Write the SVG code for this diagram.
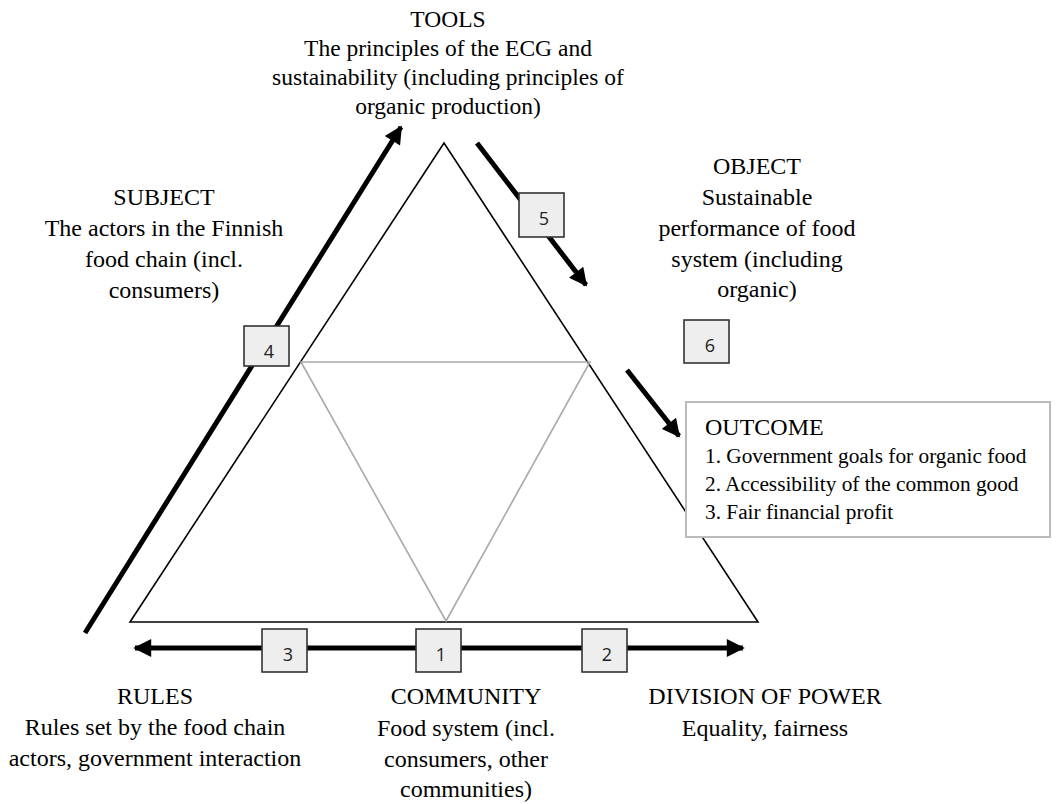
<svg xmlns="http://www.w3.org/2000/svg" width="1056" height="804" viewBox="0 0 1056 804">
<style>
.t{font-family:"Liberation Serif","Times New Roman",serif;font-size:24px;fill:#000;text-anchor:middle}
.o{font-family:"Liberation Serif","Times New Roman",serif;fill:#000}
.bx{fill:#eeeeee;stroke:#333;stroke-width:1.6}
.n{font-family:"Open Sans","Liberation Sans",sans-serif;font-size:18px;fill:#222;text-anchor:middle}
.ar{stroke:#000;stroke-width:5;fill:none}
</style>
<defs>
<marker id="ah" viewBox="0 0 10 10" refX="9" refY="5" markerWidth="4" markerHeight="3.6" orient="auto" markerUnits="strokeWidth">
<path d="M0,0 L10,5 L0,10 z" fill="#000"/>
</marker>
</defs>
<rect width="1056" height="804" fill="#fff"/>
<g id="triangle">
<polygon points="444,143 758,622 130,622" fill="none" stroke="#000" stroke-width="1.6"/>
<polygon points="301,362 590,362 446,621" fill="none" stroke="#aaa" stroke-width="1.6"/>
</g>
<g id="connectors">
<line class="ar" x1="440" y1="648" x2="135" y2="648" marker-end="url(#ah)"/>
<line class="ar" x1="440" y1="648" x2="743" y2="648" marker-end="url(#ah)"/>
<line class="ar" x1="85" y1="633" x2="401" y2="127" marker-end="url(#ah)"/>
<line class="ar" x1="477" y1="143" x2="586" y2="285" marker-end="url(#ah)"/>
<line class="ar" x1="627" y1="370" x2="679" y2="436" marker-end="url(#ah)"/>
</g>
<g id="n1"><rect class="bx" x="416" y="629" width="45" height="43"/><text class="n" x="441" y="661">1</text></g>
<g id="n2"><rect class="bx" x="582" y="629" width="45" height="43"/><text class="n" x="607" y="661">2</text></g>
<g id="n3"><rect class="bx" x="262" y="629" width="45" height="43"/><text class="n" x="288" y="661">3</text></g>
<g id="n4"><rect class="bx" x="244" y="326" width="45" height="40"/><text class="n" x="269" y="358">4</text></g>
<g id="n5"><rect class="bx" x="519" y="193" width="45" height="44"/><text class="n" x="544" y="225">5</text></g>
<g id="n6"><rect class="bx" x="684" y="320" width="45" height="43"/><text class="n" x="710" y="352">6</text></g>
<g id="tools" font-size="23.5">
<text class="t" x="448" y="27" style="font-size:23.5px">TOOLS</text>
<text class="t" x="448" y="56" style="font-size:23.5px">The principles of the ECG and</text>
<text class="t" x="448" y="85" style="font-size:23.5px">sustainability (including principles of</text>
<text class="t" x="448" y="114" style="font-size:23.5px">organic production)</text>
</g>
<g id="subject">
<text class="t" x="164" y="205">SUBJECT</text>
<text class="t" x="164" y="236">The actors in the Finnish</text>
<text class="t" x="164" y="267">food chain (incl.</text>
<text class="t" x="164" y="298">consumers)</text>
</g>
<g id="object">
<text class="t" x="757" y="174">OBJECT</text>
<text class="t" x="757" y="205">Sustainable</text>
<text class="t" x="757" y="236">performance of food</text>
<text class="t" x="757" y="267">system (including</text>
<text class="t" x="757" y="297">organic)</text>
</g>
<g id="outcome">
<rect x="686" y="402" width="364" height="135" fill="#fff" stroke="#bbb" stroke-width="2"/>
<text class="o" x="705" y="435" font-size="24">OUTCOME</text>
<text class="o" x="705" y="463" font-size="21.3">1. Government goals for organic food</text>
<text class="o" x="705" y="491" font-size="21.3">2. Accessibility of the common good</text>
<text class="o" x="705" y="519" font-size="21.3">3. Fair financial profit</text>
</g>
<g id="rules">
<text class="t" x="155" y="704">RULES</text>
<text class="t" x="155" y="735">Rules set by the food chain</text>
<text class="t" x="155" y="766">actors, government interaction</text>
</g>
<g id="community">
<text class="t" x="466" y="704">COMMUNITY</text>
<text class="t" x="466" y="736">Food system (incl.</text>
<text class="t" x="466" y="767">consumers, other</text>
<text class="t" x="466" y="797">communities)</text>
</g>
<g id="power">
<text class="t" x="765" y="704">DIVISION OF POWER</text>
<text class="t" x="765" y="736">Equality, fairness</text>
</g>
</svg>
